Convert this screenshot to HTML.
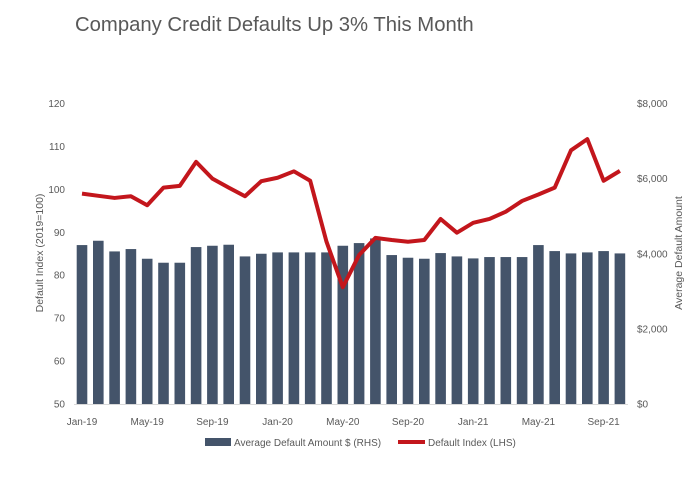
<!DOCTYPE html>
<html><head><meta charset="utf-8"><style>
body{margin:0;background:#fff;font-family:"Liberation Sans",sans-serif}
svg text{font-family:"Liberation Sans",sans-serif}
</style></head><body>
<svg id="c" width="692" height="481">
<text x="75" y="31" font-size="20.3" fill="#595959">Company Credit Defaults Up 3% This Month</text>
<g id="g"></g>
</svg>
<script>
const months=["Jan-19","Feb-19","Mar-19","Apr-19","May-19","Jun-19","Jul-19","Aug-19","Sep-19","Oct-19","Nov-19","Dec-19","Jan-20","Feb-20","Mar-20","Apr-20","May-20","Jun-20","Jul-20","Aug-20","Sep-20","Oct-20","Nov-20","Dec-20","Jan-21","Feb-21","Mar-21","Apr-21","May-21","Jun-21","Jul-21","Aug-21","Sep-21","Oct-21"];
const amounts=[4231,4346,4062,4125,3867,3761,3761,4178,4213,4240,3929,4000,4036,4036,4036,4036,4213,4284,4408,3965,3894,3867,4018,3929,3876,3912,3912,3912,4231,4071,4009,4036,4071,4009];
const index=[99.0,98.5,98.0,98.4,96.3,100.4,100.8,106.4,102.5,100.4,98.4,101.9,102.7,104.2,102.0,87.8,77.2,84.7,88.7,88.2,87.8,88.2,93.1,89.9,92.2,93.1,94.8,97.3,98.8,100.4,109.1,111.7,102.0,104.3];
const leftTicks=[50,60,70,80,90,100,110,120];
const rightTicks=[0,2000,4000,6000,8000];
const xTickEvery=4;
const pTop=103.5,pBot=404,x0=82,dx=16.3;
const yL=v=>pBot-(v-50)/70*(pBot-pTop);
const yR=v=>pBot-v/8000*(pBot-pTop);
const xi=i=>x0+i*dx;
const g=document.getElementById('g');
const NS="http://www.w3.org/2000/svg";
function mk(t,a,txt){const e=document.createElementNS(NS,t);for(const k in a)e.setAttribute(k,a[k]);if(txt!=null)e.textContent=txt;g.appendChild(e);return e;}
leftTicks.forEach(v=>{const e=mk('text',{x:65,y:yL(v)+3.5,'font-size':10,fill:'#595959','text-anchor':'end'},v);

});
rightTicks.forEach(v=>{const e=mk('text',{x:637,y:yR(v)+3.5,'font-size':10,fill:'#595959'},'$'+v.toLocaleString('en-US'));

});
amounts.forEach((v,i)=>{const e=mk('rect',{x:xi(i)-5.3,y:yR(v),width:10.6,height:pBot-yR(v),fill:'#44546a'});

});
const ax=mk('line',{x1:74,x2:628,y1:pBot+0.5,y2:pBot+0.5,stroke:'#d9d9d9','stroke-width':1});


months.forEach((m,i)=>{if(i%xTickEvery)return;const e=mk('text',{x:xi(i),y:425,'font-size':10,fill:'#595959','text-anchor':'middle'},m);

});
const ln=mk('polyline',{points:index.map((v,i)=>xi(i)+','+yL(v)).join(' '),fill:'none',stroke:'#c3161c','stroke-width':4,'stroke-linejoin':'round'});


const t1=mk('text',{transform:'translate(43,253) rotate(-90)','font-size':10.5,fill:'#595959','text-anchor':'middle'},'Default Index (2019=100)');


const t2=mk('text',{transform:'translate(682,253) rotate(-90)','font-size':10.5,fill:'#595959','text-anchor':'middle'},'Average Default Amount');


const l1=mk('rect',{x:205,y:438,width:26,height:8,fill:'#44546a'});


const l2=mk('text',{x:234,y:446,'font-size':10,fill:'#595959'},'Average Default Amount $ (RHS)');


const l3=mk('line',{x1:398,x2:425,y1:442,y2:442,stroke:'#c3161c','stroke-width':4});


const l4=mk('text',{x:428,y:446,'font-size':10,fill:'#595959'},'Default Index (LHS)');


</script>
</body></html>
